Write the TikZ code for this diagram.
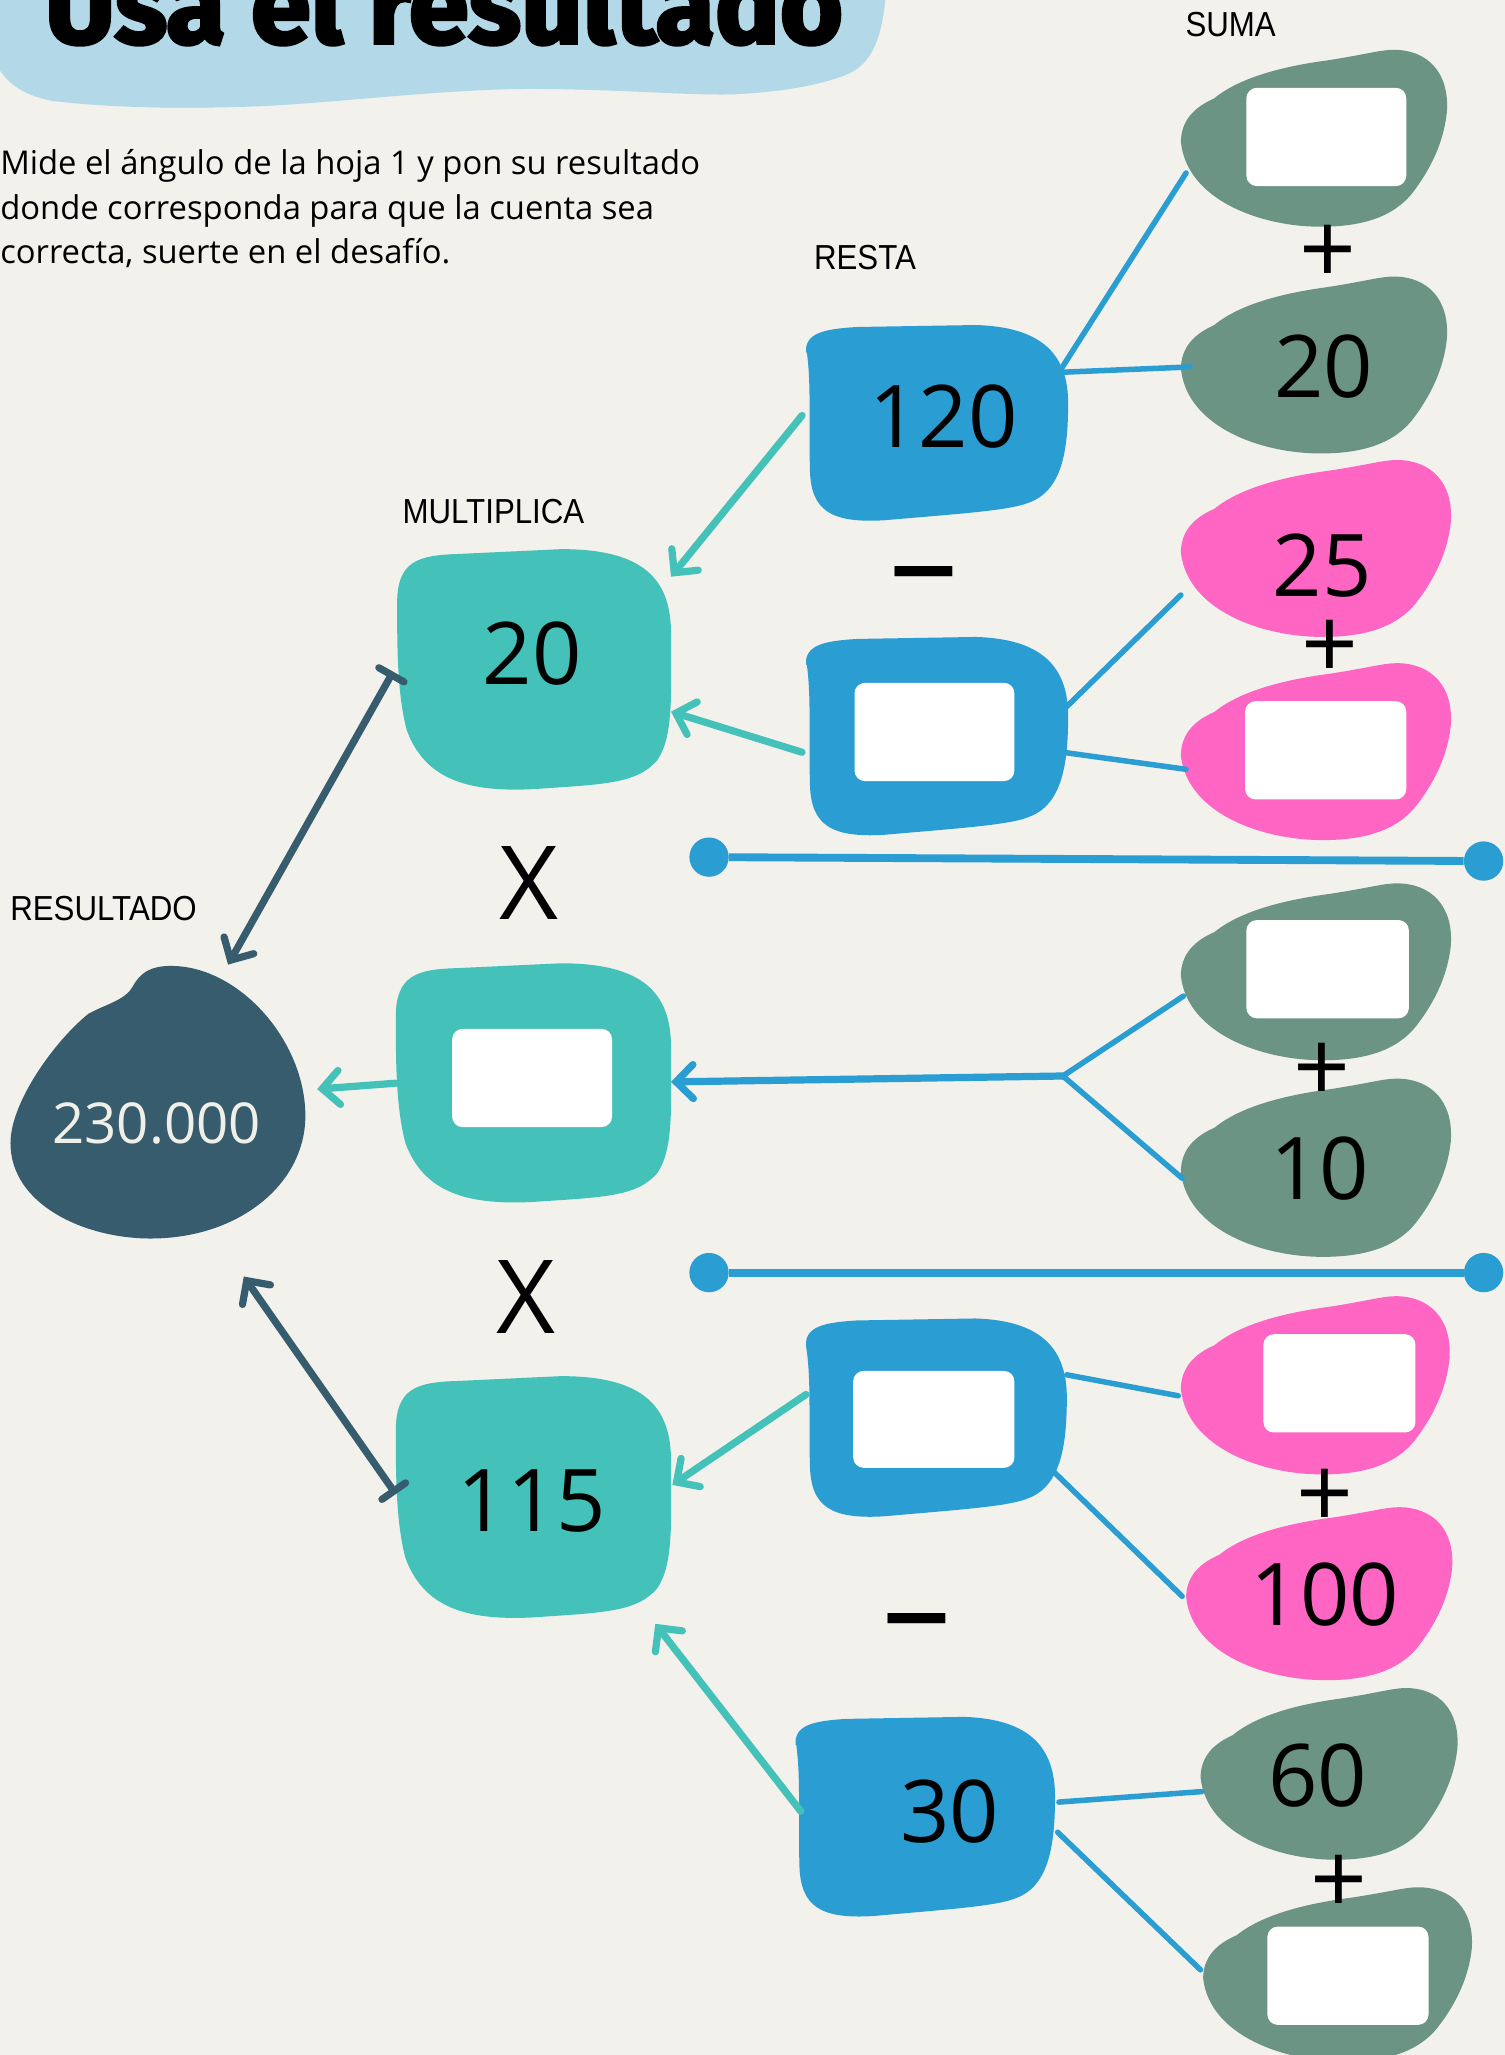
\documentclass[tikz,border=0pt]{standalone}
\usepackage{fontspec}
\usepackage{graphicx}
\usetikzlibrary{arrows.meta,calc}
\newfontfamily\numfont{Open Sans}
\newfontfamily\parfont{Open Sans}
\newfontfamily\labfont{Liberation Sans}[FakeStretch=0.9]
\newfontfamily\titfont{Fira Sans}[FakeBold=3]
\definecolor{bgC}{HTML}{F2F1EC}
\definecolor{titleC}{HTML}{B3D8E8}
\definecolor{greenC}{HTML}{6B9484}
\definecolor{pinkC}{HTML}{FF66C4}
\definecolor{blueC}{HTML}{2A9DD3}
\definecolor{tealC}{HTML}{44C1B9}
\definecolor{navyC}{HTML}{365C6E}
\definecolor{creamC}{HTML}{F0EFE8}
\def\bluepath{(-0.99,-0.72) .. controls (-1.0,-0.92) and (-0.85,-0.96) .. (-0.6,-0.98) -- (0.3,-1.0) .. controls (0.8,-0.98) and (1.0,-0.7) .. (1.0,-0.2) .. controls (1.0,0.3) and (0.95,0.7) .. (0.7,0.82) .. controls (0.55,0.9) and (0.2,0.93) .. (-0.4,1.0) .. controls (-0.8,1.03) and (-0.95,0.9) .. (-0.96,0.5) .. controls (-0.97,0.0) and (-0.95,-0.4) .. cycle}
\def\tealpath{(-1,-0.55) .. controls (-1,-0.9) and (-0.85,-0.95) .. (-0.55,-0.96) -- (0.2,-1.0) .. controls (0.8,-1.0) and (1.0,-0.75) .. (1.0,-0.3) .. controls (1.0,0.2) and (1.02,0.55) .. (0.9,0.75) .. controls (0.75,0.95) and (0.5,0.95) .. (0,0.99) .. controls (-0.5,1.02) and (-0.8,0.9) .. (-0.93,0.5) .. controls (-1.0,0.2) and (-1.0,-0.2) .. cycle}
\def\blobpath{(-1,0.05) .. controls (-1,-0.2) and (-0.9,-0.35) .. (-0.75,-0.45) .. controls (-0.55,-0.7) and (-0.2,-0.82) .. (0.1,-0.88) .. controls (0.4,-0.95) and (0.5,-1.0) .. (0.6,-1.0) .. controls (0.85,-1.0) and (1.02,-0.75) .. (1.0,-0.3) .. controls (0.98,0.0) and (0.9,0.3) .. (0.75,0.6) .. controls (0.6,0.9) and (0.35,1.0) .. (0.05,1.0) .. controls (-0.4,1.0) and (-0.95,0.7) .. cycle}
\def\navypath{(0.09,-1.0) .. controls (-0.05,-1.0) and (-0.12,-0.95) .. (-0.17,-0.85) .. controls (-0.22,-0.75) and (-0.35,-0.72) .. (-0.47,-0.65) .. controls (-0.7,-0.45) and (-1.0,0.0) .. (-1.0,0.3) .. controls (-1.0,0.75) and (-0.5,1.0) .. (-0.05,1.0) .. controls (0.55,1.0) and (1.0,0.6) .. (1.0,0.1) .. controls (1.0,-0.45) and (0.55,-1.0) .. cycle}
\newcommand{\shapenode}[7]{%
  \fill[#2, shift={(#4,#5)}, xscale=#6, yscale=#7] #3;
  \node[inner sep=0pt, outer sep=0pt, minimum width=#6*2pt, minimum height=#7*2pt] (#1) at (#4,#5) {};}
\begin{document}
\begin{tikzpicture}[x=1pt,y=-1pt,
  lab/.style={font=\labfont\fontsize{26.5}{26.5}\selectfont, inner sep=0pt},
  num/.style={font=\numfont\fontsize{66}{66}\selectfont, inner sep=0pt},
  op/.style={font=\numfont\fontsize{76}{76}\selectfont, inner sep=0pt},
  minus/.style={font=\numfont\fontsize{105}{105}\selectfont, inner sep=0pt},
  par/.style={font=\parfont\fontsize{25}{25}\selectfont, inner sep=0pt, anchor=base west},
  wbox/.style={fill=white, rounded corners=8pt, inner sep=0pt},
  tealarrow/.style={draw=tealC, line width=5.5pt, line cap=round, -{Straight Barb[length=13pt, width=26pt, line cap=round]}},
  bluearrow/.style={draw=blueC, line width=5.5pt, line cap=round, -{Straight Barb[length=13pt, width=26pt, line cap=round]}},
  navyarrow/.style={draw=navyC, line width=5.5pt, line cap=round, {Bar[width=22pt, line cap=round]}-{Straight Barb[length=13pt, width=26pt, line cap=round]}},
  blueline/.style={draw=blueC, line width=4.2pt, line cap=round},
  dotline/.style={draw=blueC, line width=6pt},
  dot/.style={circle, fill=blueC, minimum size=30pt, inner sep=0pt}]
\fill[bgC] (0,0) rectangle (1148.3,1568);
\useasboundingbox (0,0) rectangle (1148.3,1568);
\clip (0,0) rectangle (1148.3,1568);
% title
\fill[titleC] (-5,-5) -- (-5,45) .. controls (3,62) and (15,72) .. (40,77) .. controls (90,83) and (150,83) .. (200,81) .. controls (260,78) and (320,70) .. (390,68) .. controls (460,67) and (520,73) .. (560,72) .. controls (600,70) and (630,64) .. (648,56) .. controls (665,48) and (673,30) .. (676,-5) -- cycle;
\node[anchor=base west, inner sep=0pt] (title) at (34,33) {\resizebox{609pt}{!}{\titfont\bfseries\fontsize{80}{80}\selectfont Usa el resultado}};
\node[par] (par1) at (0,133.5) {Mide el ángulo de la hoja 1 y pon su resultado};
\node[par] (par2) at (0,167.2) {donde corresponda para que la cuenta sea};
\node[par] (par3) at (0,200.9) {correcta, suerte en el desafío.};
% labels
\node[lab] (lsuma) at (939,18.5) {SUMA};
\node[lab] (lresta) at (660,196.5) {RESTA};
\node[lab] (lmult) at (376.5,390.5) {MULTIPLICA};
\node[lab] (lres) at (79,693.5) {RESULTADO};
% shapes
\shapenode{gE1}{greenC}{\blobpath}{1002.5}{105.5}{101.5}{67.5}
\shapenode{g20}{greenC}{\blobpath}{1002.5}{278.5}{101.5}{67.5}
\shapenode{p25}{pinkC}{\blobpath}{1004}{418.5}{103}{67.5}
\shapenode{pE1}{pinkC}{\blobpath}{1004}{573.5}{103}{67.5}
\shapenode{gE2}{greenC}{\blobpath}{1004}{741.5}{103}{67.5}
\shapenode{g10}{greenC}{\blobpath}{1004}{891}{103}{68}
\shapenode{pE2}{pinkC}{\blobpath}{1003.5}{1057}{102.5}{68}
\shapenode{p100}{pinkC}{\blobpath}{1006.5}{1216}{101.5}{66}
\shapenode{g60}{greenC}{\blobpath}{1014}{1353.5}{98}{65.5}
\shapenode{gE3}{greenC}{\blobpath}{1020.5}{1506.5}{102.5}{66.5}
\shapenode{b120}{blueC}{\bluepath}{714.5}{322.5}{100.5}{74.5}
\shapenode{bE1}{blueC}{\bluepath}{714.5}{561.5}{100.5}{75.5}
\shapenode{bE2}{blueC}{\bluepath}{714}{1081.5}{100}{75.5}
\shapenode{b30}{blueC}{\bluepath}{705.5}{1386}{99.5}{76}
\shapenode{t20}{tealC}{\tealpath}{407.5}{511}{104.5}{92}
\shapenode{tE}{tealC}{\tealpath}{407}{826.5}{105}{91.5}
\shapenode{t115}{tealC}{\tealpath}{407}{1142.5}{105}{92.5}
\shapenode{navy}{navyC}{\navypath}{120.5}{841}{112.5}{104}
% white boxes
\node[wbox, minimum width=122pt, minimum height=75pt] (gE1w) at (1012,104.5) {};
\node[wbox, minimum width=122pt, minimum height=75pt] (bE1w) at (713,558.5) {};
\node[wbox, minimum width=123pt, minimum height=75pt] (pE1w) at (1011.5,572.5) {};
\node[wbox, minimum width=122pt, minimum height=75pt] (tEw) at (406,822.5) {};
\node[wbox, minimum width=124pt, minimum height=75pt] (gE2w) at (1013,739.5) {};
\node[wbox, minimum width=116pt, minimum height=75pt] (pE2w) at (1022,1055.5) {};
\node[wbox, minimum width=123pt, minimum height=74pt] (bE2w) at (712.5,1083) {};
\node[wbox, minimum width=123pt, minimum height=75pt] (gE3w) at (1028.5,1507.5) {};
% numbers
\node[num] (n120) at (720,318) {120};
\node[num] (ng20) at (1010,280) {20};
\node[num] (np25) at (1009,431.5) {25};
\node[num] (nt20) at (406,499) {20};
\node[num, text=creamC, font=\numfont\fontsize{43}{43}\selectfont] (n230) at (119.5,857) {230.000};
\node[num] (ng10) at (1007,892) {10};
\node[num] (nt115) at (406,1145) {115};
\node[num] (np100) at (1011,1217) {100};
\node[num] (ng60) at (1005.5,1354.5) {60};
\node[num] (nb30) at (724.5,1382) {30};
% operators
\node[op] (plus1) at (1013,194.5) {+};
\node[op] (plus2) at (1015,495.5) {+};
\node[op] (plus3) at (1009,818.5) {+};
\node[op] (plus4) at (1011,1143.5) {+};
\node[op] (plus5) at (1022,1438.5) {+};
\node[minus] (minus1) at (705,448.5) {–};
\node[minus] (minus2) at (699.5,1247) {–};
\node[op, font=\numfont\fontsize{78}{78}\selectfont] (x1) at (403.5,674) {X};
\node[op, font=\numfont\fontsize{78}{78}\selectfont] (x2) at (401,990) {X};
% dotted separators
\node[dot] (d1a) at (541,654) {};
\node[dot] (d1b) at (1132,657) {};
\node[dot] (d2a) at (541,971) {};
\node[dot] (d2b) at (1132,971) {};
\draw[dotline] (d1a) -- (d1b);
\draw[dotline] (d2a) -- (d2b);
% blue lines
\draw[blueline] ($(b120.east)+(-5,-41.5)$) -- ($(gE1.west)+(4,26.5)$);
\draw[blueline] ($(b120.east)+(-4,-38.5)$) -- ($(g20.west)+(7,1.5)$);
\draw[blueline] ($(bE1.east)+(-3,-20.5)$) -- ($(p25.west)+(0,35.5)$);
\draw[blueline] ($(bE1.east)+(-4,12.5)$) -- ($(pE1.west)+(4,13.5)$);
\draw[blueline] ($(bE2.east)+(0,-32.5)$) -- ($(pE2.west)+(-2,8)$);
\draw[blueline] ($(bE2.east)+(-11,40.5)$) -- ($(p100.west)+(-3,2)$);
\draw[blueline] ($(b30.east)+(3,-11)$) -- ($(g60.west)+(1,13.5)$);
\draw[blueline] ($(b30.east)+(2,12)$) -- ($(gE3.west)+(-2,-3.5)$);
\coordinate (jn) at (811,821);
\draw[blueline] (jn) -- ($(gE2.west)+(2,18.5)$);
\draw[blueline] (jn) -- ($(g10.west)+(1,8)$);
\draw[bluearrow] (jn) -- ($(tE.east)+(0,-1)$);
% teal arrows
\draw[tealarrow] ($(b120.west)+(-2,-5.5)$) -- ($(t20.east)+(0,-71)$);
\draw[tealarrow] ($(bE1.west)+(-2,12.5)$) -- ($(t20.east)+(0,32)$);
\draw[tealarrow] (tE.west) -- ($(navy.east)+(9,-10)$);
\draw[tealarrow] ($(bE2.west)+(1,-17.5)$) -- ($(t115.east)+(1,-9.5)$);
\draw[tealarrow] ($(b30.west)+(5,-4)$) -- ($(t115.south east)+(-12,4)$);
% navy arrows
\draw[navyarrow] ($(t20.west)+(-3,1.5)$) -- ($(navy.north)+(53.5,-1)$);
\draw[navyarrow] ($(t115.west)+(0,-2.5)$) -- ($(navy.south)+(65.5,29)$);
\end{tikzpicture}
\end{document}
